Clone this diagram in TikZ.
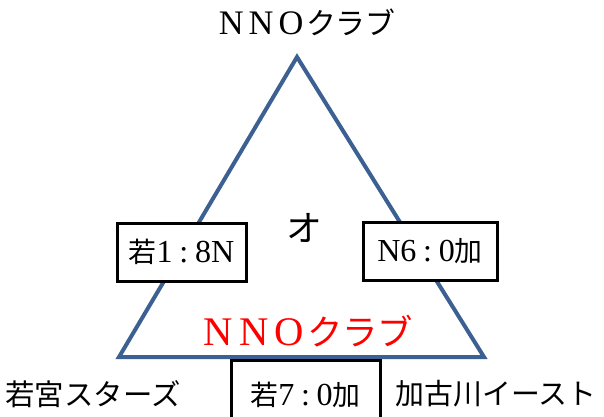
\documentclass[tikz,border=0pt]{standalone}
\usepackage{fontspec}
\setmainfont{Liberation Serif}
\newfontfamily\jp{Noto Sans CJK JP}
\newcommand\fwl[1]{\makebox[1em]{\fontsize{1.15em}{1em}\selectfont #1}}
\newcommand\lt[1]{{\fontsize{1.15em}{1em}\selectfont #1}}
\newcommand\cln{\makebox[0.8em]{\lt{:}}}
\definecolor{triblue}{RGB}{60,96,145}
\begin{document}
\begin{tikzpicture}[x=1bp,y=-1bp,
  lbl/.style={inner sep=0pt, font=\fontsize{29}{29}\selectfont},
  scorebox/.style={draw=black, line width=3bp, fill=white, inner sep=0pt,
     font=\fontsize{28}{28}\selectfont, minimum height=58bp}]
\useasboundingbox (0,0) rectangle (604,416);
\coordinate (A) at (297,57);
\coordinate (B) at (119,357);
\coordinate (C) at (484,357);
\draw[triblue, line width=4bp, line join=miter] (A) -- (B) -- (C) -- cycle;
\node[lbl, font=\fontsize{30}{30}\selectfont] (top) at (306,22) {\fwl{N}\fwl{N}\fwl{O}{\jp クラブ}};
\node[lbl, font=\fontsize{35.5}{35.5}\selectfont, text=red] (mid) at (307,331) {\fwl{N}\fwl{N}\fwl{O}{\jp クラブ}};
\node[lbl, font=\fontsize{36}{36}\selectfont] (o) at (304,228) {\jp オ};
\node[scorebox, minimum width=129bp] (l) at (181.5,252) {{\jp 若}\lt{1}\cln\lt{8N}};
\node[scorebox, minimum width=134bp] (r) at (430,251) {\lt{N6}\cln\lt{0}{\jp 加}};
\node[scorebox, minimum width=149bp, minimum height=70bp] (b) at (305.5,395) {{\jp 若}\lt{7}\cln\lt{0}{\jp 加}};
\node[lbl, font=\fontsize{29.5}{29.5}\selectfont] (w) at (93,394) {\jp 若宮スターズ};
\node[lbl] (k) at (496,394) {\jp 加古川イースト};
\end{tikzpicture}
\end{document}
